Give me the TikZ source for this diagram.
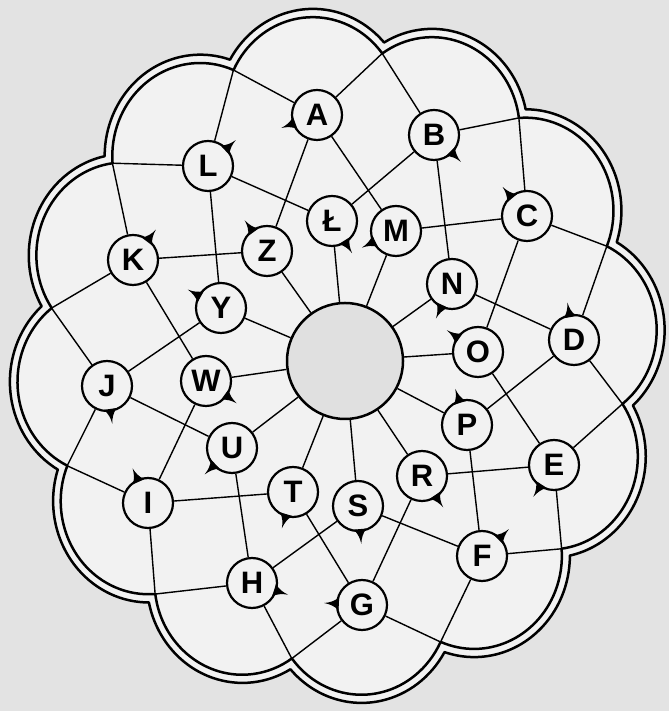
\documentclass[tikz,border=0pt]{standalone}
\usepackage{fontspec}
\setmainfont{Liberation Sans}
\usetikzlibrary{calc}
\definecolor{paper}{gray}{0.89}
\definecolor{field}{gray}{0.95}
\definecolor{hollow}{gray}{0.88}

\begin{document}
\begin{tikzpicture}[
    x=1pt, y=1pt,
    rim/.style={line width=2.5pt, line join=round},
    spot/.style={circle, draw, line width=2.2pt, fill=field, minimum size=50pt, inner sep=0pt, font=\fontsize{31}{31}\selectfont\bfseries},
    link/.style={line width=1.4pt}
]
\fill[paper] (0,0) rectangle (669,711);
\useasboundingbox (0,0) rectangle (669,711);

% scalloped rim, double line
\begin{scope}[shift={(337,355)}, yscale=1.06]
  \filldraw[rim, fill=field] (21:299.6) \foreach \t in {36,66,...,366} {arc[start angle=\t-54.05, end angle=\t+54.05, radius=95.7]} -- cycle;
  \draw[rim] (21:289) \foreach \t in {36,66,...,366} {arc[start angle=\t-58.4, end angle=\t+58.4, radius=87.8]} -- cycle;
  \foreach \k in {0,...,11} \coordinate (c\k) at (21+30*\k:289);
\end{scope}

\node[circle, draw, line width=2.5pt, fill=hollow, minimum size=116pt] (hole) at (345,350) {};

% outer ring
\node[spot] (A) at (317,596) {A};
\node[spot] (B) at (434,576) {B};
\node[spot] (C) at (527,495) {C};
\node[spot] (D) at (574,371) {D};
\node[spot] (E) at (554,246) {E};
\node[spot] (F) at (482,155) {F};
\node[spot] (G) at (362,106) {G};
\node[spot] (H) at (252,128) {H};
\node[spot] (I) at (148,208) {I};
\node[spot] (J) at (107,325) {J};
\node[spot] (K) at (133,451) {K};
\node[spot] (L) at (208,545) {L};

% inner ring
\node[spot] (Lb) at (332,490) {Ł};
\node[spot] (M) at (396,480) {M};
\node[spot] (N) at (452,427) {N};
\node[spot] (O) at (478,359) {O};
\node[spot] (P) at (467,286) {P};
\node[spot] (R) at (422,235) {R};
\node[spot] (S) at (358,205) {S};
\node[spot] (T) at (293,219) {T};
\node[spot] (U) at (232,263) {U};
\node[spot] (W) at (206,330) {W};
\node[spot] (Y) at (221,403) {Y};
\node[spot] (Z) at (267,460) {Z};

\foreach \o/\p/\q in {A/2/3, B/1/2, C/0/1, D/11/0, E/10/11, F/9/10, G/8/9, H/7/8, I/6/7, J/5/6, K/4/5, L/3/4} {
  \draw[link] (\o) -- (c\p);
  \draw[link] (\o) -- (c\q);
}
\foreach \o/\i in {B/Lb, L/Lb, A/M, C/M, B/N, D/N, C/O, E/O, D/P, F/P, E/R, G/R, F/S, H/S, G/T, I/T, H/U, J/U, I/W, K/W, J/Y, L/Y, K/Z, A/Z}
  \draw[link] (\o) -- (\i);
\foreach \i in {Lb, M, N, O, P, R, S, T, U, W, Y, Z}
  \draw[link] (hole) -- (\i);

% thorns
\foreach \n/\a in {A/200, B/-45, C/130, D/100, E/237, F/45, G/177, H/-18, I/114, J/-82, K/53, L/43, Lb/-58, M/206, N/245, O/145, P/108, R/-56, S/-85, T/253, U/224, W/-36, Y/151, Z/126}
  \fill ($(\n.center)+(\a-15:24)$) to[bend left=15] ($(\n.center)+(\a:38)$) to[bend left=15] ($(\n.center)+(\a+15:24)$) -- cycle;
\end{tikzpicture}
\end{document}
